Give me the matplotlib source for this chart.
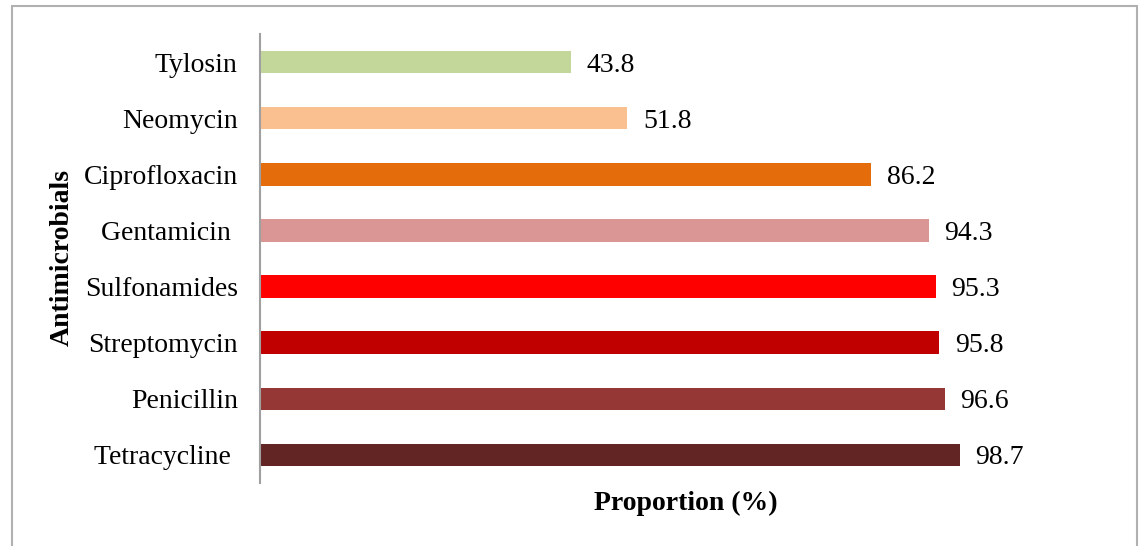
import matplotlib
matplotlib.use('Agg')
import matplotlib.pyplot as plt
from matplotlib.patches import Rectangle

# data, top to bottom as drawn
drugs = ['Tylosin', 'Neomycin', 'Ciprofloxacin', 'Gentamicin ', 'Sulfonamides',
         'Streptomycin', 'Penicillin', 'Tetracycline ']
values = [43.8, 51.8, 86.2, 94.3, 95.3, 95.8, 96.6, 98.7]
colors = ['#c4d79b', '#fac090', '#e46c0a', '#d99694', '#ff0000',
          '#c00000', '#953735', '#632523']

plt.rcParams['font.family'] = ['Liberation Serif', 'DejaVu Serif']

fig = plt.figure(figsize=(11.43, 5.46), dpi=100)
ax = fig.add_axes([260 / 1143, 1 - 483 / 546, 0.735, (483 - 34) / 546])

pos = list(range(len(drugs)))
ax.barh(pos, values, height=0.4, color=colors)
for p, v in zip(pos, values):
    ax.text(v + 2.2, p, f'{v:.1f}', va='center_baseline', ha='left', fontsize=20)

ax.set_ylim(len(drugs) - 0.5, -0.5)
ax.set_xlim(0, 118.5)
ax.set_yticks(pos)
ax.set_yticklabels(drugs, fontsize=20, va='center_baseline')
ax.tick_params(axis='y', length=0, pad=16)
ax.set_xticks([])
for s in ['top', 'right', 'bottom']:
    ax.spines[s].set_visible(False)
ax.spines['left'].set_color('#a0a0a0')
ax.spines['left'].set_linewidth(1.5)

fig.text(686 / 1143, 1 - 503 / 546, 'Proportion (%)', ha='center', va='center',
         fontsize=20, fontweight='bold')
fig.text(62 / 1143, 1 - 258 / 546, 'Antimicrobials', ha='center', va='center',
         rotation=90, fontsize=20, fontweight='bold')

# outer frame around the chart
fig.patches.append(Rectangle((12 / 1143, -0.02), (1137 - 12) / 1143, (546 - 6) / 546 + 0.02,
                             transform=fig.transFigure, fill=False,
                             edgecolor='#b0b0b0', linewidth=1.5))

fig.savefig('out.png', dpi=100)
